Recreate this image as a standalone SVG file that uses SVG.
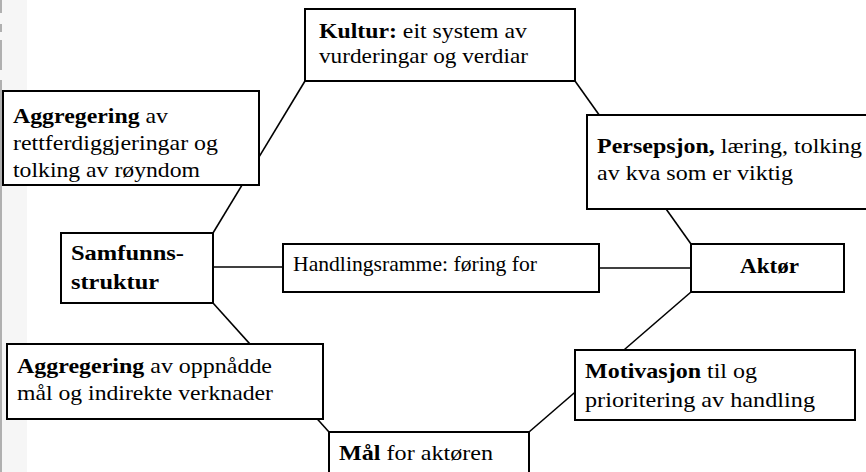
<svg xmlns="http://www.w3.org/2000/svg" width="866" height="472" viewBox="0 0 866 472">
<style>
.box{fill:#fff;stroke:#000;stroke-width:2}
.ln{stroke:#000;stroke-width:1.6;fill:none}
.b{font-weight:bold}
</style>
<rect x="0" y="0" width="866" height="472" fill="#fff"/>
<rect x="0" y="0" width="27" height="472" fill="#f6f6f6"/>
<path d="M1,0V13M1,24V32M1,40V70M1,80V472" stroke="#b0b0b0" stroke-width="2" fill="none"/>
<g id="connectors">
<line class="ln" x1="213" y1="233" x2="305" y2="81"/>
<line class="ln" x1="575" y1="81" x2="691" y2="244"/>
<line class="ln" x1="691" y1="292" x2="529" y2="432"/>
<line class="ln" x1="329" y1="432" x2="213" y2="303"/>
<line class="ln" x1="213" y1="267" x2="283" y2="267"/>
<line class="ln" x1="599" y1="268" x2="691" y2="268"/>
</g>
<g font-family="Liberation Serif, Times New Roman, serif" font-size="22" fill="#000">
<g id="kultur">
<rect class="box" x="305" y="9" width="270" height="72"/>
<text x="319" y="38" textLength="208" lengthAdjust="spacingAndGlyphs"><tspan class="b">Kultur:</tspan> eit system av</text>
<text x="319" y="63" textLength="209" lengthAdjust="spacingAndGlyphs">vurderingar og verdiar</text>
</g>
<g id="aggregering1">
<rect class="box" x="3" y="91" width="256" height="94"/>
<text x="13" y="123" textLength="155" lengthAdjust="spacingAndGlyphs"><tspan class="b">Aggregering</tspan> av</text>
<text x="13" y="150" textLength="205" lengthAdjust="spacingAndGlyphs">rettferdiggjeringar og</text>
<text x="13" y="177" textLength="187" lengthAdjust="spacingAndGlyphs">tolking av røyndom</text>
</g>
<g id="persepsjon">
<rect class="box" x="587" y="115" width="300" height="94"/>
<text x="597" y="153" textLength="265" lengthAdjust="spacingAndGlyphs"><tspan class="b">Persepsjon,</tspan> læring, tolking</text>
<text x="597" y="180" textLength="196" lengthAdjust="spacingAndGlyphs">av kva som er viktig</text>
</g>
<g id="samfunnsstruktur">
<rect class="box" x="61" y="233" width="152" height="70"/>
<text class="b" x="71" y="260" textLength="113" lengthAdjust="spacingAndGlyphs">Samfunns-</text>
<text class="b" x="71" y="289" textLength="88" lengthAdjust="spacingAndGlyphs">struktur</text>
</g>
<g id="handlingsramme">
<rect class="box" x="283" y="244" width="316" height="48"/>
<text x="293" y="271" textLength="244" lengthAdjust="spacingAndGlyphs">Handlingsramme: føring for</text>
</g>
<g id="aktor">
<rect class="box" x="691" y="244" width="153" height="48"/>
<text class="b" x="740" y="273" textLength="59" lengthAdjust="spacingAndGlyphs">Aktør</text>
</g>
<g id="aggregering2">
<rect class="box" x="7" y="344" width="316" height="75"/>
<text x="17" y="373" textLength="255" lengthAdjust="spacingAndGlyphs"><tspan class="b">Aggregering</tspan> av oppnådde</text>
<text x="17" y="400" textLength="256" lengthAdjust="spacingAndGlyphs">mål og indirekte verknader</text>
</g>
<g id="motivasjon">
<rect class="box" x="575" y="350" width="280" height="70"/>
<text x="585" y="378" textLength="172" lengthAdjust="spacingAndGlyphs"><tspan class="b">Motivasjon</tspan> til og</text>
<text x="585" y="407" textLength="230" lengthAdjust="spacingAndGlyphs">prioritering av handling</text>
</g>
<g id="maal">
<rect class="box" x="329" y="432" width="200" height="60"/>
<text x="339" y="460" textLength="154" lengthAdjust="spacingAndGlyphs"><tspan class="b">Mål</tspan>  for aktøren</text>
</g>
</g>
</svg>
